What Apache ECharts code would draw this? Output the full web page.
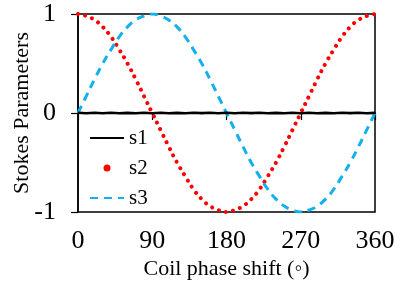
<!DOCTYPE html>
<html>
<head>
<meta charset="utf-8">
<script src="https://cdn.jsdelivr.net/npm/echarts@6/dist/echarts.min.js"></script>
<style>html,body{margin:0;padding:0;background:#fff}#c{width:417px;height:287px}</style>
</head>
<body>
<div id="c"></div>
<script>
// Coil phase shift (degrees)
var phase = [0,10,20,30,40,50,60,70,80,90,100,110,120,130,140,150,160,170,180,190,200,210,220,230,240,250,260,270,280,290,300,310,320,330,340,350,360];
// s1 (near zero, noisy)
var s1 = [0.002,-0.003,0.002,-0.002,0.003,-0.002,0.001,-0.003,0.002,-0.002,0.003,-0.002,0.001,-0.003,0.002,-0.001,0.003,-0.002,0.002,-0.003,0.002,-0.001,0.003,-0.002,0.001,-0.003,0.002,-0.002,0.002,-0.003,0.001,-0.002,0.003,-0.001,0.002,-0.002,0.001];
// s2 (red dotted)
var s2 = [1,0.98,0.94,0.87,0.77,0.64,0.5,0.34,0.17,0,-0.17,-0.34,-0.5,-0.64,-0.77,-0.87,-0.94,-0.98,-1,-0.98,-0.94,-0.87,-0.77,-0.64,-0.5,-0.34,-0.17,0,0.17,0.34,0.5,0.64,0.77,0.87,0.94,0.98,1];
// s3 (blue dashed)
var s3 = [0,0.17,0.34,0.5,0.64,0.77,0.87,0.94,0.98,1,0.98,0.94,0.87,0.77,0.64,0.5,0.34,0.17,0,-0.17,-0.34,-0.5,-0.64,-0.77,-0.87,-0.94,-0.98,-1,-0.98,-0.94,-0.87,-0.77,-0.64,-0.5,-0.34,-0.17,0];
var xTicks = [0,90,180,270,360];
var yTicks = [-1,0,1];

function pairs(ys){ return phase.map(function(x,i){ return [x, ys[i]]; }); }
var font = 'Liberation Serif';
var chart = echarts.init(document.getElementById('c'), null, {renderer:'canvas'});
chart.setOption({
  animation:false,
  backgroundColor:'#fff',
  grid:{left:78,right:42,top:14,bottom:75,show:true,borderColor:'#000',borderWidth:1.5,backgroundColor:'transparent',
        containLabel:false,outerBoundsMode:'none'},
  legend:{
    orient:'vertical', left:84, top:122, itemWidth:34, itemHeight:7, itemGap:8,
    textStyle:{fontFamily:font,fontSize:21,color:'#000',lineHeight:22},
    data:[{name:'s1',itemStyle:{opacity:0}},{name:'s2',icon:'circle'},{name:'s3',itemStyle:{opacity:0}}]
  },
  xAxis:{
    type:'value', min:xTicks[0], max:xTicks[xTicks.length-1], interval:90,
    name:'Coil phase shift (\u25E6)', nameLocation:'middle', nameGap:46, nameMoveOverlap:false,
    nameTextStyle:{fontFamily:font,fontSize:22,color:'#000'},
    axisLine:{show:true,lineStyle:{color:'#000',width:1.5}},
    axisTick:{show:true,inside:false,length:7,lineStyle:{color:'#000',width:1.2}},
    axisLabel:{fontFamily:font,fontSize:26,color:'#000',margin:16},
    splitLine:{show:false}
  },
  yAxis:{
    type:'value', min:yTicks[0], max:yTicks[yTicks.length-1], interval:1,
    name:'Stokes Parameters', nameLocation:'middle', nameGap:45, nameRotate:90, nameMoveOverlap:false,
    nameTextStyle:{fontFamily:font,fontSize:22,color:'#000'},
    axisLine:{show:true,onZero:false,lineStyle:{color:'#000',width:1.5}},
    axisTick:{show:true,inside:false,length:7,lineStyle:{color:'#000',width:1.2}},
    axisLabel:{fontFamily:font,fontSize:26,color:'#000',margin:22},
    splitLine:{show:false}
  },
  series:[
    {name:'s1',type:'line',data:pairs(s1),showSymbol:false,symbol:'none',color:'#000',
     lineStyle:{color:'#000',width:2.6},z:3},
    {name:'s2',type:'line',data:pairs(s2),smooth:0.5,showSymbol:false,symbol:'none',color:'#ff0000',
     lineStyle:{color:'#ff0000',width:4,type:[0.01,7.3],cap:'round'},z:2},
    {name:'s3',type:'line',data:pairs(s3),smooth:0.5,showSymbol:false,symbol:'none',color:'#12b0ee',
     lineStyle:{color:'#12b0ee',width:3,type:[8,6]},z:2}
  ]
});
</script>
</body>
</html>
